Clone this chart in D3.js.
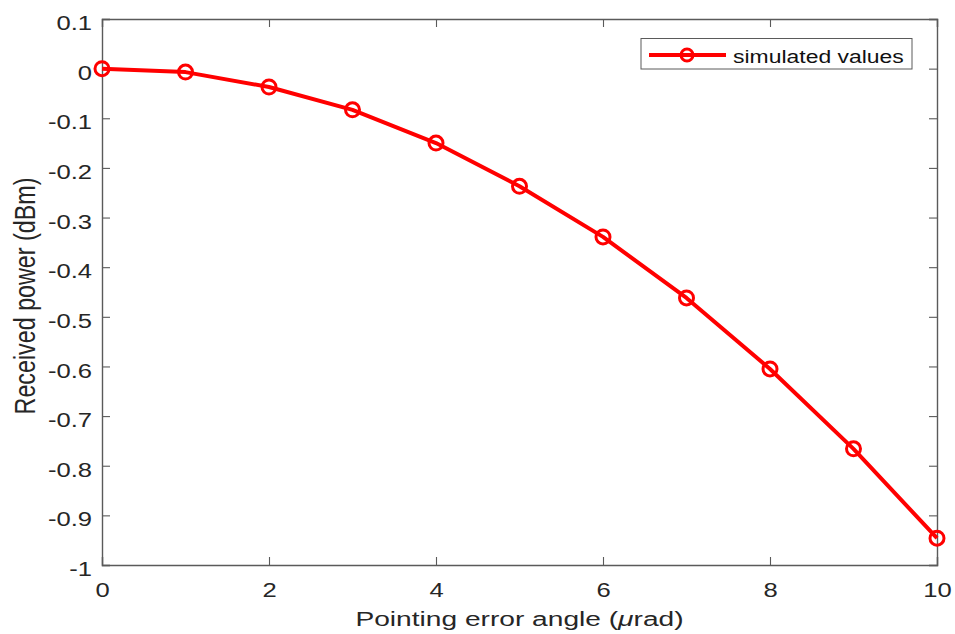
<!DOCTYPE html>
<html><head><meta charset="utf-8">
<script src="https://cdn.jsdelivr.net/npm/d3@7"></script>
<style>body{margin:0;background:#fff}svg{display:block}text{font-family:"Liberation Sans",Arial,sans-serif}</style>
</head><body>
<svg id="c" width="955" height="634"></svg>
<script>
const angles = [0,1,2,3,4,5,6,7,8,9,10];
const power = [0,-0.007,-0.037,-0.083,-0.150,-0.237,-0.339,-0.462,-0.605,-0.766,-0.946];
const xTicks = [0,2,4,6,8,10];
const yTicks = [0.1,0,-0.1,-0.2,-0.3,-0.4,-0.5,-0.6,-0.7,-0.8,-0.9,-1];
const seriesName = "simulated values";

const svg = d3.select("#c");
const L=102,R=937,T=19,B=565;
const x = d3.scaleLinear().domain([0,10]).range([L,R]);
const y = d3.scaleLinear().domain([-1,0.1]).range([B,T]);
const axisColor="#5a5a5a", tickLen=8, txtColor="#262626";
const SX = 1.28; // horizontal stretch of the reference's text
const fmt = v => {
  if (Math.abs(v)<1e-9) return "0";
  return String(+v.toFixed(1)).replace("\u2212","-");
};

const gx = svg.append("g").attr("transform",`translate(0,${B})`)
  .call(d3.axisBottom(x).tickValues(xTicks).tickSize(-tickLen).tickPadding(18).tickFormat(d=>String(d)));
const gxt = svg.append("g").attr("transform",`translate(0,${T})`)
  .call(d3.axisTop(x).tickValues(xTicks).tickSize(-tickLen).tickFormat(""));
const gy = svg.append("g").attr("transform",`translate(${L},0)`)
  .call(d3.axisLeft(y).tickValues(yTicks).tickSize(-tickLen).tickFormat(fmt));
const gyr = svg.append("g").attr("transform",`translate(${R},0)`)
  .call(d3.axisRight(y).tickValues(yTicks).tickSize(-tickLen).tickFormat(""));
[gx,gxt,gy,gyr].forEach(g=>{
  g.selectAll("path.domain").attr("stroke",axisColor).attr("stroke-width",1.4);
  g.selectAll(".tick line").attr("stroke",axisColor).attr("stroke-width",1.1);
  g.selectAll(".tick text").attr("fill",txtColor).attr("font-size",20)
    .attr("font-family","Liberation Sans, Arial, sans-serif");
});
gx.selectAll(".tick text").attr("x",0).attr("dy","0.71em").attr("transform",`scale(${SX},1)`);
gy.selectAll(".tick text").attr("x",0).attr("dy","0.53em").attr("text-anchor","end")
  .attr("transform",`translate(-10,0) scale(${SX},1)`);

svg.append("text").attr("text-anchor","middle")
  .attr("transform",`translate(${(L+R)/2},626) scale(1.34,1)`)
  .attr("font-size",21).attr("fill",txtColor)
  .html('Pointing error angle (<tspan font-style="italic">μ</tspan>rad)');
svg.append("text").attr("text-anchor","middle")
  .attr("transform",`translate(35,296) scale(1.25,1) rotate(-90)`)
  .attr("font-size",23.3).attr("fill",txtColor).text("Received power (dBm)");

const pts = angles.map((a,i)=>[a,power[i]]);
const red="#ff0000";
svg.append("path").datum(pts).attr("fill","none").attr("stroke",red).attr("stroke-width",4)
  .attr("stroke-linejoin","round")
  .attr("d",d3.line().x(d=>x(d[0])).y(d=>y(d[1])));
svg.append("g").selectAll("circle").data(pts).join("circle")
  .attr("cx",d=>x(d[0])).attr("cy",d=>y(d[1])).attr("r",7)
  .attr("fill","none").attr("stroke",red).attr("stroke-width",3);

// legend
const lg = svg.append("g");
lg.append("rect").attr("x",641).attr("y",38.5).attr("width",271).attr("height",30.5)
  .attr("fill","#fff").attr("stroke",axisColor).attr("stroke-width",1);
lg.append("line").attr("x1",649).attr("x2",726).attr("y1",55).attr("y2",55).attr("stroke",red).attr("stroke-width",4);
lg.append("circle").attr("cx",687).attr("cy",55).attr("r",6).attr("fill","none").attr("stroke",red).attr("stroke-width",3);
lg.append("text").attr("transform",`translate(733,62.7) scale(1.24,1)`).attr("font-size",18.5)
  .attr("fill","#111").text(seriesName);
</script>
</body></html>
